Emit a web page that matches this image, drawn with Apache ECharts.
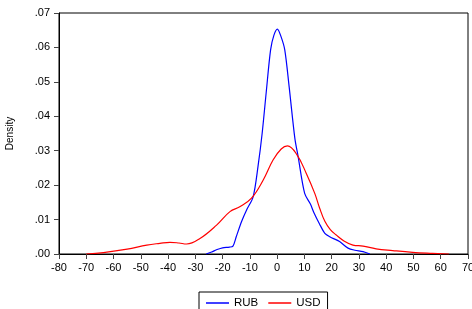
<!DOCTYPE html>
<html>
<head>
<meta charset="utf-8">
<script src="https://cdn.jsdelivr.net/npm/echarts@6/dist/echarts.min.js"></script>
<style>
  html, body { margin: 0; padding: 0; background: #fff; }
  #chart { width: 472px; height: 309px; }
</style>
</head>
<body>
<div id="chart"></div>
<script>
// kernel density, [x, density] pairs
const rubDensity = [
  [-26, 0], [-24, 0.0006], [-22, 0.0013], [-20, 0.0018], [-17.5, 0.002],
  [-16.2, 0.0023], [-15, 0.005], [-13, 0.0095], [-11.2, 0.0128], [-8.8, 0.0166],
  [-7, 0.0255], [-5.5, 0.035], [-4, 0.047], [-2.4, 0.0593], [-1.2, 0.0635],
  [0.1, 0.0653], [1.4, 0.0632], [2.8, 0.0593], [4.4, 0.0486], [6.5, 0.0336],
  [7.7, 0.0283], [10.1, 0.0176], [12.2, 0.0145], [13.5, 0.012], [15.5, 0.0088],
  [17.5, 0.006], [19.3, 0.005], [22.9, 0.0036], [26, 0.0017], [28.5, 0.0011],
  [31.5, 0.0007], [34, 0]
];
const usdDensity = [
  [-70, 0], [-63.7, 0.0004], [-55, 0.0014], [-47.8, 0.0026], [-43, 0.0031],
  [-39.3, 0.0034], [-36, 0.0032], [-33.2, 0.0029], [-28.3, 0.0045], [-22.2, 0.0084],
  [-17.3, 0.0123], [-13.7, 0.0137], [-9.4, 0.0162], [-5.1, 0.0215], [-1.5, 0.0273],
  [1.5, 0.0305], [3.8, 0.0314], [7.3, 0.0288], [10.7, 0.0234], [13.8, 0.0176],
  [15.6, 0.0133], [17.5, 0.0095], [19.5, 0.0071], [21.7, 0.0055], [24.5, 0.0038],
  [27.8, 0.0026], [31.5, 0.0023], [36.3, 0.0015], [42.4, 0.001], [49.7, 0.0005],
  [57, 0.0002], [63, 0]
];
const seriesNames = ["RUB", "USD"];
const seriesColors = ["#0000ff", "#ff0000"];
const xTicks = { min: -80, max: 70, step: 10 };
const yTicks = { min: 0, max: 0.07, step: 0.01 };

const chart = echarts.init(document.getElementById("chart"));
const font = "Liberation Sans, Arial, sans-serif";

chart.setOption({
  animation: false,
  textStyle: { fontFamily: font },
  grid: {
    left: 59, right: 4, top: 13, bottom: 55,
    outerBoundsMode: "none",
    show: true, borderColor: "#000", borderWidth: 1
  },
  legend: {
    data: seriesNames,
    left: 199, top: 292,
    padding: [5, 7, 5, 7],
    icon: "rect",
    itemWidth: 23, itemHeight: 1.5, itemGap: 10,
    borderColor: "#000", borderWidth: 1,
    textStyle: { fontFamily: font, fontSize: 11.5, color: "#000" }
  },
  xAxis: {
    type: "value",
    min: xTicks.min, max: xTicks.max, interval: xTicks.step,
    splitLine: { show: false },
    axisLine: { onZero: false, lineStyle: { color: "#000" } },
    axisTick: { length: 5, lineStyle: { color: "#444" } },
    axisLabel: { color: "#000", fontSize: 11, margin: 8 }
  },
  yAxis: {
    type: "value",
    min: yTicks.min, max: yTicks.max, interval: yTicks.step,
    name: "Density",
    nameLocation: "middle",
    nameGap: 44,
    nameTextStyle: { fontSize: 10, color: "#000" },
    splitLine: { show: false },
    axisLine: { show: true, onZero: false, lineStyle: { color: "#000" } },
    axisTick: { show: true, length: 5, lineStyle: { color: "#444" } },
    axisLabel: {
      color: "#000", fontSize: 11, margin: 9,
      formatter: (v) => v.toFixed(2).replace(/^0/, "")
    }
  },
  series: [
    {
      name: seriesNames[0], type: "line", data: rubDensity,
      smooth: 0.3, symbol: "none",
      lineStyle: { color: seriesColors[0], width: 1.2 },
      itemStyle: { color: seriesColors[0] }
    },
    {
      name: seriesNames[1], type: "line", data: usdDensity,
      smooth: 0.4, symbol: "none",
      lineStyle: { color: seriesColors[1], width: 1.2 },
      itemStyle: { color: seriesColors[1] }
    }
  ]
});
</script>
</body>
</html>
